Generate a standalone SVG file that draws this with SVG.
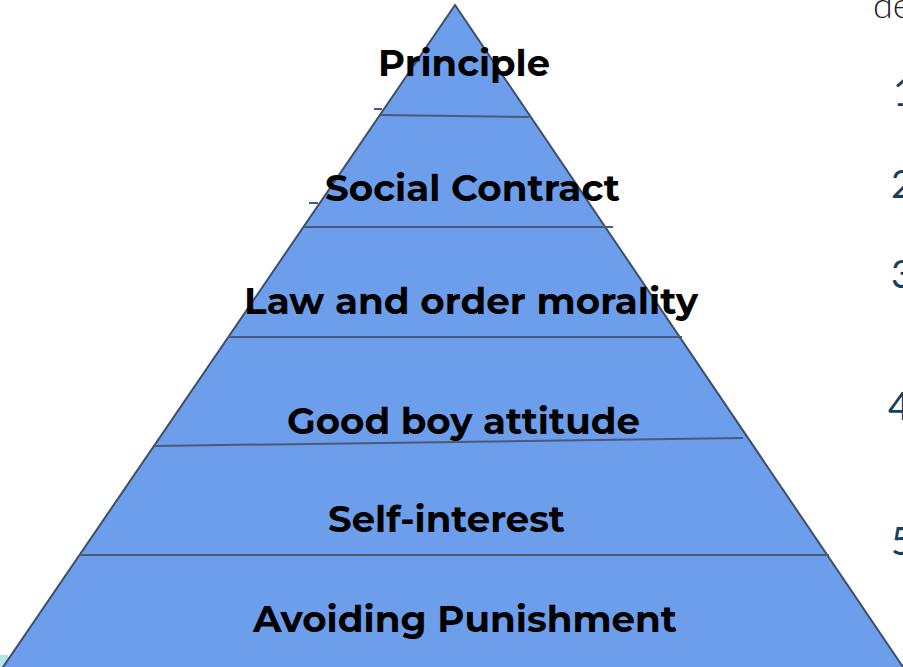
<svg xmlns="http://www.w3.org/2000/svg" width="903" height="667" viewBox="0 0 903 667">
  <style>
    .tier { font-family: "Montserrat", "Open Sans", "Lato", sans-serif; font-weight: 700; font-size: 36px; fill: #000; }
    .div { stroke: #4a5a78; stroke-width: 2; fill: none; }
    .num { font-family: "Lato", "Open Sans", sans-serif; font-weight: 400; font-size: 38px; fill: #173f5f; }
  </style>
  <rect width="903" height="667" fill="#ffffff"/>
  <!-- corner sliver -->
  <rect x="0" y="655" width="8" height="12" fill="#b4e3ec"/>

  <g id="pyramid">
    <polygon points="455,5 1,670 905,670" fill="#6d9eeb" stroke="#3f4f6a" stroke-width="2"/>
  </g>

  <g id="dividers">
    <line class="div" x1="380" y1="115" x2="529" y2="117"/>
    <line class="div" x1="374" y1="109" x2="382" y2="109" stroke-width="1.5"/>
    <line class="div" x1="304" y1="227" x2="613" y2="227"/>
    <line class="div" x1="309" y1="203" x2="318" y2="203" stroke-width="1.5"/>
    <line class="div" x1="228" y1="337" x2="682" y2="337"/>
    <line class="div" x1="154" y1="446" x2="743" y2="438"/>
    <line class="div" x1="79" y1="555" x2="829" y2="555"/>
  </g>

  <g id="tier-principle"><text class="tier" x="378" y="76" textLength="172" lengthAdjust="spacingAndGlyphs">Principle</text></g>
  <g id="tier-social"><text class="tier" x="325" y="201" textLength="295" lengthAdjust="spacingAndGlyphs">Social Contract</text></g>
  <g id="tier-law"><text class="tier" x="244" y="314" textLength="454" lengthAdjust="spacingAndGlyphs">Law and order morality</text></g>
  <g id="tier-goodboy"><text class="tier" x="287" y="434" textLength="353" lengthAdjust="spacingAndGlyphs">Good boy attitude</text></g>
  <g id="tier-self"><text class="tier" x="328" y="532" textLength="237" lengthAdjust="spacingAndGlyphs">Self-interest</text></g>
  <g id="tier-avoid"><text class="tier" x="253" y="632" textLength="424" lengthAdjust="spacingAndGlyphs">Avoiding Punishment</text></g>

  <!-- side list, running past the right edge -->
  <g id="side-list">
    <text x="873" y="18" font-family="Lato, 'Open Sans', sans-serif" font-weight="300" font-size="36" fill="#222">de</text>
    <text class="num" x="893" y="106">1</text>
    <text class="num" x="891" y="198">2</text>
    <text class="num" x="891" y="288">3</text>
    <text class="num" x="888" y="420">4</text>
    <text class="num" x="891" y="555">5</text>
  </g>
</svg>
